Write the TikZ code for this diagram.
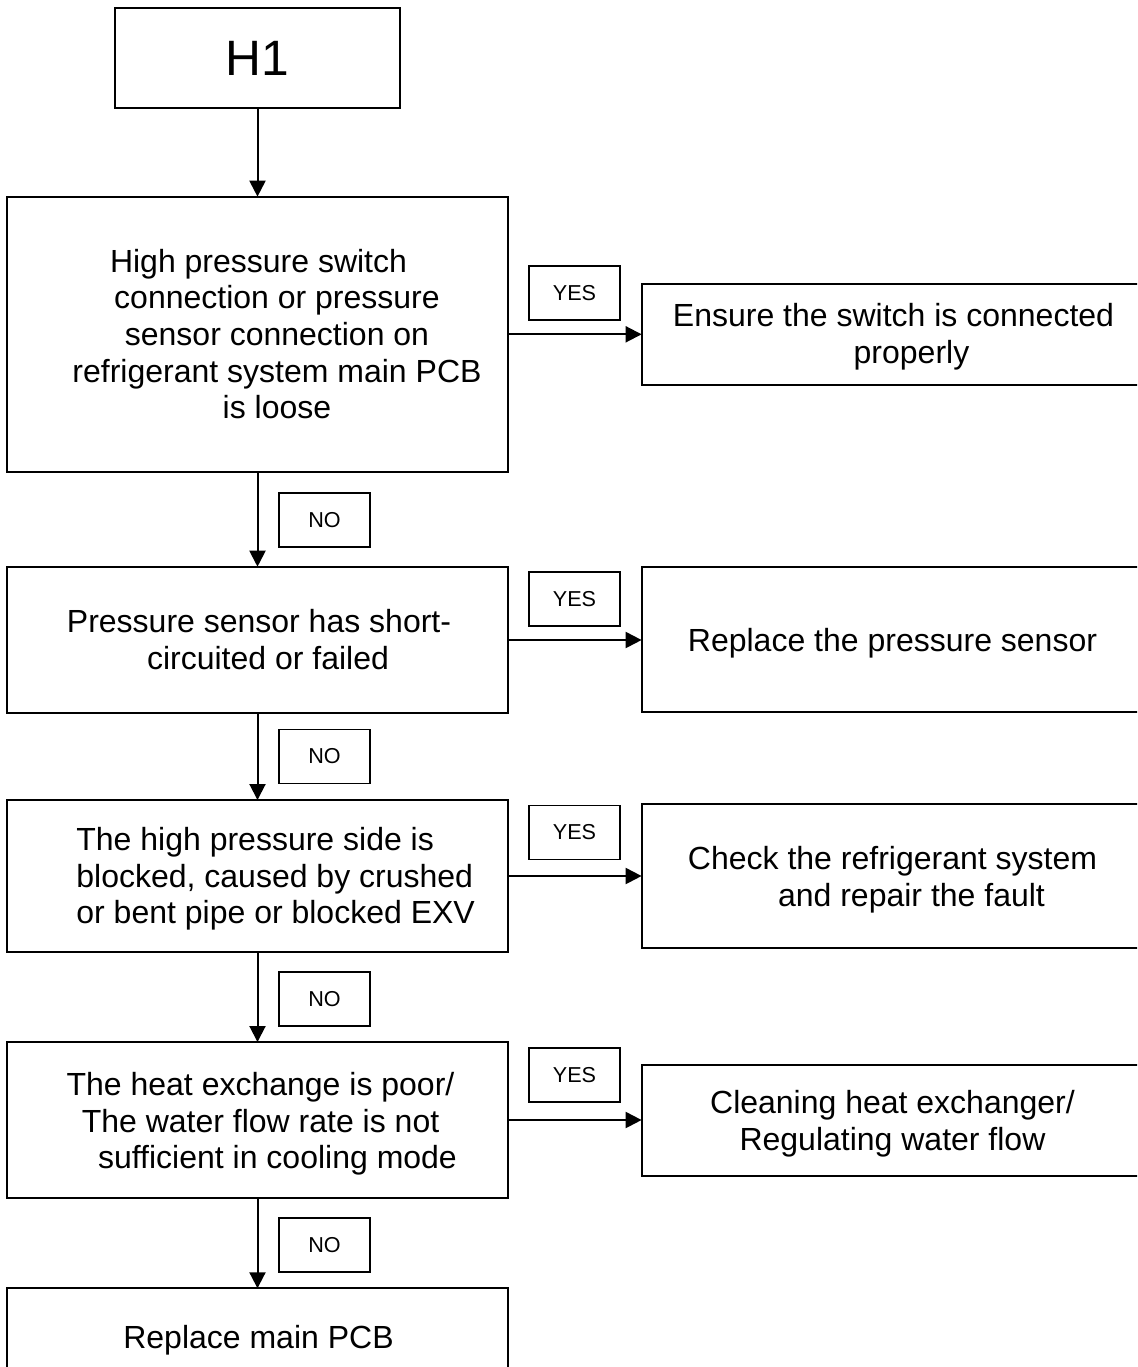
\documentclass[tikz,border=0pt]{standalone}
\usepackage{fontspec}
\setmainfont{Liberation Sans}
\usetikzlibrary{arrows.meta}
\begin{document}
\begin{tikzpicture}[x=0.5pt,y=-0.5pt,
  box/.style={draw=black, line width=1pt, inner sep=0pt, outer sep=0pt},
  bigbox/.style={box, minimum width=250.5pt},
  rbox/.style={box, minimum width=251.15pt},
  lbl/.style={draw=black, line width=0.8pt, inner sep=0pt, minimum width=45.5pt,
              minimum height=27pt, font=\fontsize{10.8}{13}\selectfont},
  txt/.style={inner sep=0pt, font=\fontsize{16}{18.35}\selectfont, align=center},
  arr/.style={line width=1pt, -{Triangle[length=8pt,width=8pt]}}]
\useasboundingbox (0,0) rectangle (1137,1367);
\clip (0,0) rectangle (1137,1367);
\fill[white] (0,0) rectangle (1137,1367);

% start
\node[box, minimum width=142.5pt, minimum height=50pt, font=\fontsize{24.85}{28}\selectfont] (h1) at (257.5,58.3) {H1};

% row 1
\node[bigbox, minimum height=137.65pt] (b1) at (257.5,334.3) {};
\node[txt] (t1) at (277,334) {High pressure switch\rule{18.5pt}{0pt}\\ connection or pressure\\ sensor connection on\\ refrigerant system main PCB\\ is loose};
\node[lbl] (y1) at (574.5,293) {YES};
\node[rbox, minimum height=50.5pt] (r1) at (892.8,334.5) {};
\node[txt] (rt1) at (893.5,336.8) {Ensure the switch is connected\\\rule{18pt}{0pt}properly};
\node[lbl] (n1) at (324.5,519.7) {NO};

% row 2
\node[bigbox, minimum height=73.3pt] (b2) at (257.5,640) {};
\node[txt] (t2) at (268,639.6) {Pressure sensor has short-\rule{9pt}{0pt}\\ circuited or failed};
\node[lbl] (y2) at (574.5,599) {YES};
\node[rbox, minimum height=72.35pt] (r2) at (892.8,639.3) {};
\node[txt, anchor=base] (rt2) at (892.5,651.7) {Replace the pressure sensor};
\node[lbl] (n2) at (324.5,756.5) {NO};

% row 3
\node[bigbox, minimum height=76pt] (b3) at (257.5,876) {};
\node[txt, align=left, anchor=west] (t3) at (76,879) {The high pressure side is\\ blocked, caused by crushed\\ or bent pipe or blocked EXV};
\node[lbl] (y3) at (574.5,832.3) {YES};
\node[rbox, minimum height=72pt] (r3) at (892.8,876) {};
\node[txt] (rt3) at (892.5,880) {Check the refrigerant system\\\rule{19pt}{0pt}and repair the fault};
\node[lbl] (n3) at (324.5,998.7) {NO};

% row 4
\node[bigbox, minimum height=78pt] (b4) at (257.5,1120) {};
\node[txt] (t4) at (260.5,1124) {The heat exchange is poor/\\ The water flow rate is not\\ \rule{17pt}{0pt}sufficient in cooling mode};
\node[lbl] (y4) at (574.5,1075) {YES};
\node[rbox, minimum height=55.5pt] (r4) at (892.8,1120.5) {};
\node[txt] (rt4) at (892.5,1123.7) {Cleaning heat exchanger/\\ Regulating water flow};
\node[lbl] (n4) at (324.5,1244.7) {NO};

% end
\node[bigbox, minimum height=65.85pt] (b5) at (257.5,1354.15) {};
\node[txt, anchor=base] (t5) at (258.5,1348) {Replace main PCB};

% connectors
\draw[arr] (h1.south) -- (b1.north);
\draw[arr] (b1.south) -- (b2.north);
\draw[arr] (b2.south) -- (b3.north);
\draw[arr] (b3.south) -- (b4.north);
\draw[arr] (b4.south) -- (b5.north);
\draw[arr] (b1.east) -- (b1.east -| r1.west);
\draw[arr] (b2.east) -- (b2.east -| r2.west);
\draw[arr] (b3.east) -- (b3.east -| r3.west);
\draw[arr] (b4.east) -- (b4.east -| r4.west);
\end{tikzpicture}
\end{document}
